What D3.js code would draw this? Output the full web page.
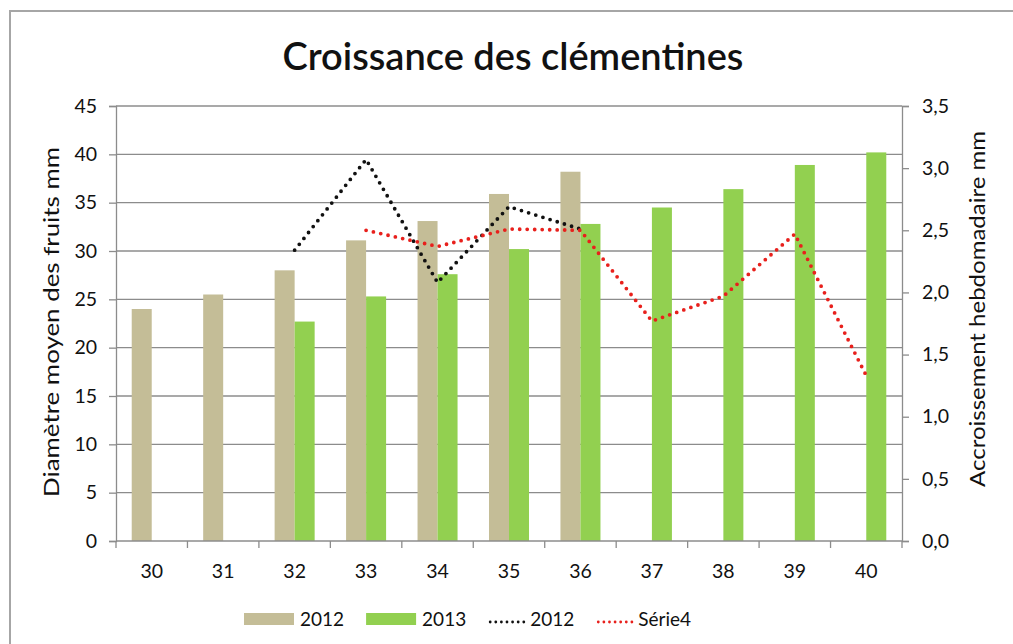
<!DOCTYPE html>
<html><head><meta charset="utf-8">
<script src="https://cdn.jsdelivr.net/npm/d3@7"></script>
<style>body{margin:0;background:#fff;} svg{display:block;}</style>
</head><body>
<svg id="c" width="1013" height="644"></svg>
<script>
const categories = ["30","31","32","33","34","35","36","37","38","39","40"];
const bars2012 = [24.0, 25.5, 28.0, 31.1, 33.1, 35.9, 38.2, null, null, null, null];
const bars2013 = [null, null, 22.7, 25.3, 27.6, 30.2, 32.8, 34.5, 36.4, 38.9, 40.2];
const line2012 = [null, null, 2.34, 3.07, 2.08, 2.69, 2.51, null, null, null, null];
const serie4 = [null, null, null, 2.50, 2.37, 2.51, 2.50, 1.77, 1.97, 2.47, 1.33];
const leftTicks = [0,5,10,15,20,25,30,35,40,45];
const rightTicks = [0,0.5,1,1.5,2,2.5,3,3.5];
const title = "Croissance des clémentines";
const leftLabel = "Diamètre moyen des fruits mm";
const rightLabel = "Accroissement hebdomadaire mm";
const legendItems = [
  {label:"2012", type:"bar", color:"#c4bd97"},
  {label:"2013", type:"bar", color:"#92d050"},
  {label:"2012", type:"line", color:"#111"},
  {label:"Série4", type:"line", color:"#e8201c"}
];

const font = "Lato, 'Open Sans', sans-serif";
const svg = d3.select("#c");
const m = {l:116, r:902, t:106, b:541};

// outer border
svg.append("rect").attr("x",10).attr("y",11).attr("width",1020).attr("height",660)
  .attr("fill","#fff").attr("stroke","#a6a6a6").attr("stroke-width",2);

const x = d3.scaleBand().domain(categories).range([m.l, m.r]).paddingInner(0.44).paddingOuter(0.22);
const xs = d3.scaleBand().domain(["a","b"]).range([0, x.bandwidth()]);
const yL = d3.scaleLinear().domain([0,45]).range([m.b, m.t]);
const yR = d3.scaleLinear().domain([0,3.5]).range([m.b, m.t]);
const xc = d3.scaleBand().domain(categories).range([m.l, m.r]);

// gridlines
svg.append("g").selectAll("line").data(leftTicks.filter(d=>d>0)).join("line")
  .attr("x1",m.l).attr("x2",m.r).attr("y1",d=>yL(d)).attr("y2",d=>yL(d))
  .attr("stroke","#8c8c8c").attr("stroke-width",1.3);

// bars
const g = svg.append("g");
categories.forEach((c,i)=>{
  if(bars2012[i]!=null) g.append("rect").attr("x",x(c)+xs("a")).attr("width",xs.bandwidth())
    .attr("y",yL(bars2012[i])).attr("height",yL(0)-yL(bars2012[i])).attr("fill","#c4bd97");
  if(bars2013[i]!=null) g.append("rect").attr("x",x(c)+xs("b")).attr("width",xs.bandwidth())
    .attr("y",yL(bars2013[i])).attr("height",yL(0)-yL(bars2013[i])).attr("fill","#92d050");
});

// lines
function drawLine(data,color){
  const line = d3.line().defined(d=>d!=null).x((d,i)=>xc(categories[i])+xc.bandwidth()/2).y(d=>yR(d));
  svg.append("path").datum(data).attr("d",line).attr("fill","none").attr("stroke",color)
    .attr("stroke-width",3.8).attr("stroke-linecap","round").attr("stroke-dasharray","0 7.5");
}
drawLine(line2012,"#111");
drawLine(serie4,"#e8201c");

// axes
const axisColor = "#8c8c8c";
const gl = svg.append("g").attr("transform",`translate(${m.l},0)`)
  .call(d3.axisLeft(yL).tickValues(leftTicks).tickSize(7).tickPadding(12).tickFormat(d3.format("d")));
const gr = svg.append("g").attr("transform",`translate(${m.r},0)`)
  .call(d3.axisRight(yR).tickValues(rightTicks).tickSize(7).tickPadding(13).tickFormat(d=>d3.format(".1f")(d).replace(".",",")));
const gb = svg.append("g").attr("transform",`translate(0,${m.b})`)
  .call(d3.axisBottom(xc).tickSize(0).tickPadding(23));
// category boundary ticks on x axis
svg.append("g").selectAll("line").data(categories.concat(["end"])).join("line")
  .attr("x1",(d,i)=>m.l+i*xc.step()).attr("x2",(d,i)=>m.l+i*xc.step())
  .attr("y1",m.b).attr("y2",m.b+7).attr("stroke",axisColor).attr("stroke-width",1.3);
[gl,gr,gb].forEach(a=>{
  a.attr("font-size",19.5).attr("font-family",font);
  a.selectAll("path").attr("stroke",axisColor).attr("stroke-width",1.3);
  a.selectAll("line").attr("stroke",axisColor).attr("stroke-width",1.3);
  a.selectAll("text").attr("fill","#111");
});
gb.selectAll("path").attr("d",`M${m.l},0H${m.r}`);

// title
svg.append("text").attr("x",513).attr("y",70).attr("text-anchor","middle")
  .attr("font-family",font).attr("font-size",38).attr("font-weight","600").attr("fill","#111").text(title);

// axis titles
svg.append("text").attr("transform",`translate(59,322) rotate(-90)`).attr("text-anchor","middle")
  .attr("font-family",font).attr("font-size",21).attr("textLength",350).attr("lengthAdjust","spacingAndGlyphs")
  .attr("fill","#111").text(leftLabel);
svg.append("text").attr("transform",`translate(985,309) rotate(-90)`).attr("text-anchor","middle")
  .attr("font-family",font).attr("font-size",21).attr("textLength",356).attr("lengthAdjust","spacingAndGlyphs")
  .attr("fill","#111").text(rightLabel);

// legend
const lg = svg.append("g");
let lx = 244;
const ly = 619;
legendItems.forEach(it=>{
  if(it.type==="bar"){
    lg.append("rect").attr("x",lx).attr("y",ly-6).attr("width",50).attr("height",12).attr("fill",it.color);
    lx += 56;
  } else {
    lg.append("line").attr("x1",lx+2).attr("x2",lx+36).attr("y1",ly+3).attr("y2",ly+3).attr("stroke",it.color)
      .attr("stroke-width",2.8).attr("stroke-linecap","round").attr("stroke-dasharray","0 5.6");
    lx += 42;
  }
  const t = lg.append("text").attr("x",lx).attr("y",ly+7).attr("font-family",font).attr("font-size",19)
    .attr("fill","#111").text(it.label);
  lx += t.node().getComputedTextLength() + 22;
});
</script>
</body></html>
